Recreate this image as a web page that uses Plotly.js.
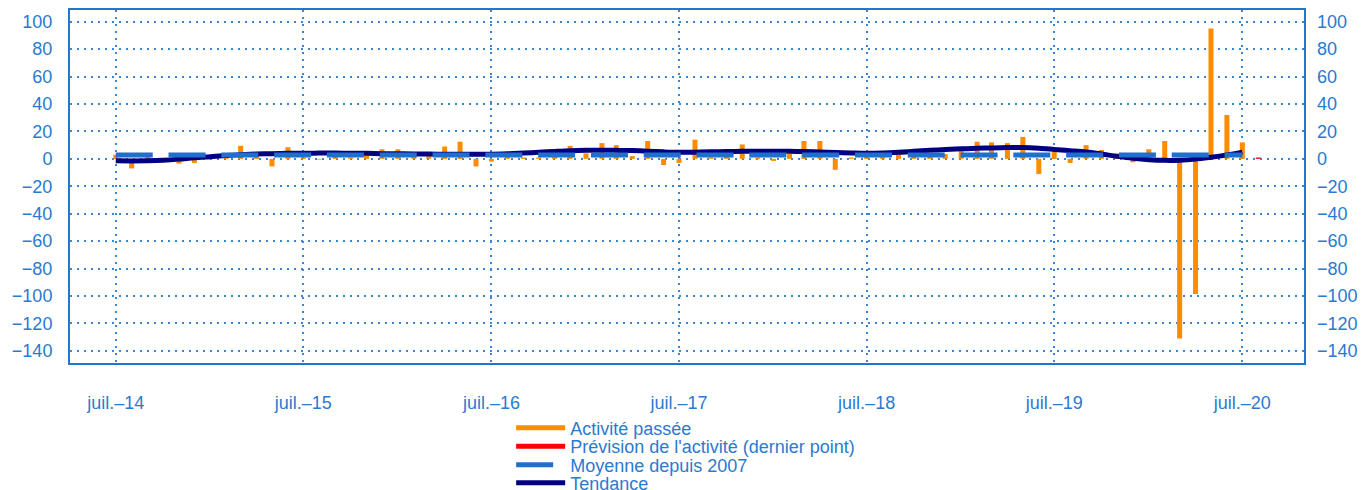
<!DOCTYPE html>
<html>
<head>
<meta charset="utf-8">
<script src="https://cdn.plot.ly/plotly-3.0.1.min.js"></script>
<style>
  html, body { margin: 0; padding: 0; background: #ffffff; }
  #chart { width: 1365px; height: 490px; }
</style>
</head>
<body>
<div id="chart"></div>
<script>
// ---------- DATA ----------
const months = [
  '2014-07-01','2014-08-01','2014-09-01','2014-10-01','2014-11-01','2014-12-01',
  '2015-01-01','2015-02-01','2015-03-01','2015-04-01','2015-05-01','2015-06-01',
  '2015-07-01','2015-08-01','2015-09-01','2015-10-01','2015-11-01','2015-12-01',
  '2016-01-01','2016-02-01','2016-03-01','2016-04-01','2016-05-01','2016-06-01',
  '2016-07-01','2016-08-01','2016-09-01','2016-10-01','2016-11-01','2016-12-01',
  '2017-01-01','2017-02-01','2017-03-01','2017-04-01','2017-05-01','2017-06-01',
  '2017-07-01','2017-08-01','2017-09-01','2017-10-01','2017-11-01','2017-12-01',
  '2018-01-01','2018-02-01','2018-03-01','2018-04-01','2018-05-01','2018-06-01',
  '2018-07-01','2018-08-01','2018-09-01','2018-10-01','2018-11-01','2018-12-01',
  '2019-01-01','2019-02-01','2019-03-01','2019-04-01','2019-05-01','2019-06-01',
  '2019-07-01','2019-08-01','2019-09-01','2019-10-01','2019-11-01','2019-12-01',
  '2020-01-01','2020-02-01','2020-03-01','2020-04-01','2020-05-01','2020-06-01',
  '2020-07-01'
];

const activitePassee = [
  3, -7, 2, -1, -3.5, -3,
  2, 3, 9.5, 3, -5.5, 8.5,
  1, -0.5, 1.5, 1, 2.5, 7,
  7, 3, 2, 9, 12.5, -5.5,
  -2, 3, 1, 1, 2, 9.5,
  4, 11.5, 10, 2, 13, -4.5,
  -3, 14, 1, 2, 10.5, 1,
  -1.5, 3.5, 13, 13, -8, 1,
  1.5, 2, 4, 2, 2, 3.5,
  6, 12.5, 12, 11.5, 16, -11,
  5, -3, 10, 6.5, 4, -2.5,
  7, 13, -131, -98.5, 95, 32,
  12
];

const tendance = [
  -1.4, -1.5, -1.4, -1.0, -0.2, 0.8,
  1.6, 2.4, 3.0, 3.5, 3.8, 4.0,
  4.1, 4.2, 4.2, 4.1, 4.0, 3.8,
  3.7, 3.6, 3.5, 3.4, 3.3, 3.3,
  3.4, 3.7, 4.2, 4.8, 5.4, 5.9,
  6.2, 6.3, 6.2, 6.0, 5.6, 5.1,
  4.8, 4.9, 5.1, 5.3, 5.5, 5.6,
  5.6, 5.5, 5.3, 5.0, 4.6, 4.3,
  4.1, 4.3, 4.8, 5.5, 6.2, 6.8,
  7.3, 7.7, 8.0, 8.2, 8.2, 7.7,
  6.9, 6.0, 5.0, 3.5, 1.8, 0.4,
  -0.6, -1.1, -1.0, -0.2, 1.2, 2.9,
  4.9
];

const previsionX = ['2020-08-01'];
const previsionY = [1];

const moyenneX = ['2014-07-01', '2020-07-01'];
const moyenneY = [2.8, 2.8];

const xTickVals = ['2014-07-01','2015-07-01','2016-07-01','2017-07-01','2018-07-01','2019-07-01','2020-07-01'];
const xTickText = ['juil.–14','juil.–15','juil.–16','juil.–17','juil.–18','juil.–19','juil.–20'];
const yTickVals = [-140,-120,-100,-80,-60,-40,-20,0,20,40,60,80,100];

const legendLabels = ['Activité passée', "Prévision de l'activité (dernier point)", 'Moyenne depuis 2007', 'Tendance'];

// ---------- STYLE ----------
const FONT = 'Liberation Sans, Arial, sans-serif';
const TXT = '#2a7ad0';
const AXIS = '#1e78d0';
const GRID = '#3a86d6';
const ORANGE = '#ff8c00';
const RED = '#ff0000';
const BARW = 8.4e8;

const traces = [
  {
    type: 'bar', name: legendLabels[0], x: months, y: activitePassee,
    width: BARW, marker: { color: ORANGE, line: { width: 0 } },
    showlegend: false, hoverinfo: 'skip'
  },
  {
    type: 'bar', name: legendLabels[1], x: previsionX, y: previsionY,
    width: BARW, marker: { color: RED, line: { width: 0 } },
    showlegend: false, hoverinfo: 'skip'
  },
  {
    type: 'scatter', mode: 'lines', name: legendLabels[3], x: months, y: tendance,
    line: { color: '#000080', width: 5, shape: 'spline', smoothing: 1 },
    legend: 'legend4', hoverinfo: 'skip'
  },
  {
    type: 'scatter', mode: 'lines', name: legendLabels[2], x: moyenneX, y: moyenneY,
    line: { color: '#1f6fcc', width: 5, dash: '37px,15.8px' },
    legend: 'legend3', hoverinfo: 'skip'
  },
  // legend-only entries for the bar series (line symbols, as in the reference)
  {
    type: 'scatter', mode: 'lines', name: legendLabels[0], x: [null], y: [null],
    line: { color: ORANGE, width: 5 }, legend: 'legend', hoverinfo: 'skip'
  },
  {
    type: 'scatter', mode: 'lines', name: legendLabels[1], x: [null], y: [null],
    line: { color: RED, width: 5 }, legend: 'legend2', hoverinfo: 'skip'
  },
  // carrier for the right-hand axis
  {
    type: 'scatter', mode: 'lines', x: moyenneX, y: moyenneY, yaxis: 'y2',
    line: { color: 'rgba(0,0,0,0)', width: 0 }, showlegend: false, hoverinfo: 'skip'
  }
];

function leg(yPaper) {
  return {
    x: 0.3575, xanchor: 'left', y: yPaper, yanchor: 'middle',
    bgcolor: 'rgba(0,0,0,0)', borderwidth: 0,
    font: { family: FONT, size: 18, color: TXT },
    itemwidth: 49, itemclick: false, itemdoubleclick: false
  };
}

const layout = {
  width: 1365, height: 490,
  margin: { l: 70, r: 61, t: 10, b: 127, autoexpand: false },
  paper_bgcolor: '#ffffff', plot_bgcolor: '#ffffff',
  barmode: 'overlay',
  font: { family: FONT, size: 18, color: TXT },
  showlegend: true,
  xaxis: {
    type: 'date', range: ['2014-04-03', '2020-10-29'],
    tickmode: 'array', tickvals: xTickVals, ticktext: xTickText,
    ticks: '', ticklabelstandoff: 22,
    tickfont: { family: FONT, size: 18, color: TXT },
    showgrid: true, gridcolor: GRID, gridwidth: 2, griddash: '2px,5px',
    showline: true, linecolor: AXIS, linewidth: 2, mirror: true,
    zeroline: false, fixedrange: true, automargin: false
  },
  yaxis: {
    range: [-148.8, 108.5],
    tickmode: 'array', tickvals: yTickVals,
    ticks: '', ticklabelstandoff: 12,
    tickfont: { family: FONT, size: 18, color: TXT },
    showgrid: true, gridcolor: GRID, gridwidth: 2, griddash: '2px,5px',
    showline: true, linecolor: AXIS, linewidth: 2, mirror: true,
    zeroline: false, fixedrange: true, automargin: false
  },
  yaxis2: {
    overlaying: 'y', side: 'right', anchor: 'x',
    range: [-148.8, 108.5],
    tickmode: 'array', tickvals: yTickVals,
    ticks: '', ticklabelstandoff: 12,
    tickfont: { family: FONT, size: 18, color: TXT },
    showgrid: false, showline: false, zeroline: false, fixedrange: true, automargin: false
  },
  legend: leg(-0.184),
  legend2: leg(-0.2365),
  legend3: leg(-0.289),
  legend4: leg(-0.340)
};

Plotly.newPlot('chart', traces, layout, { staticPlot: true, displayModeBar: false });
</script>
</body>
</html>
